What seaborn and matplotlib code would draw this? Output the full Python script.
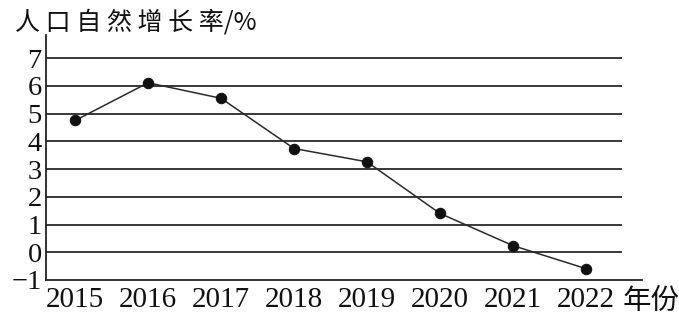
import matplotlib
matplotlib.use("Agg")
import matplotlib.pyplot as plt
import seaborn as sns
import pandas as pd

years = [2015, 2016, 2017, 2018, 2019, 2020, 2021, 2022]
rates = [4.75, 6.11, 5.55, 3.74, 3.26, 1.40, 0.24, -0.59]
y_ticks = [-1, 0, 1, 2, 3, 4, 5, 6, 7]
grid_levels = [0, 1, 2, 3, 4, 5, 6, 7]
y_title = "人 口 自 然 增 长 率/%"
x_title = "年份"

sns.set_theme(style="white")
plt.rcParams['font.family'] = ['Liberation Serif', 'DejaVu Serif']

df = pd.DataFrame({"year": years, "rate": rates})

fig = plt.figure(figsize=(6.79, 3.16), dpi=100)
ax = fig.add_axes([0.0677, 0.114, 0.8778, 0.775])

ax.hlines(grid_levels, xmin=2014.6, xmax=2022.49, colors='#2a2a2a', linewidth=1.3, zorder=1)

sns.lineplot(data=df, x="year", y="rate", ax=ax, color='#2a2a2a', linewidth=1.1,
             marker='o', markersize=7.5, markerfacecolor='#111111',
             markeredgecolor='#111111', zorder=3)

ax.set_xlim(2014.6, 2022.77)
ax.set_ylim(-1, 7.83)
ax.set_xticks(years)
ax.set_xticklabels([str(y) for y in years])
ax.set_yticks(y_ticks)
ax.set_yticklabels(["\u2212" + str(-v) if v < 0 else str(v) for v in y_ticks])
ax.set_xlabel("")
ax.set_ylabel("")

for s in ['top', 'right']:
    ax.spines[s].set_visible(False)
for s in ['left', 'bottom']:
    ax.spines[s].set_color('#222222')
    ax.spines[s].set_linewidth(1.3)

ax.tick_params(axis='x', direction='in', length=5, width=1.1, color='#222222',
               labelsize=21, pad=5, labelcolor='#111111')
ax.tick_params(axis='y', length=0, labelsize=20.5, pad=3, labelcolor='#111111')
ax.set_facecolor('white')

fig.text(15 / 679, 1 - 29 / 316, y_title, fontsize=18,
         family=['Noto Sans CJK SC', 'DejaVu Sans'], weight='light', color='#111111',
         ha='left', va='baseline')
fig.text(623 / 679, 1 - 309 / 316, x_title, fontsize=20.5,
         family=['Noto Sans CJK SC', 'DejaVu Sans'], weight='light', color='#111111',
         ha='left', va='baseline')

fig.savefig("out.png", dpi=100, facecolor='white')
